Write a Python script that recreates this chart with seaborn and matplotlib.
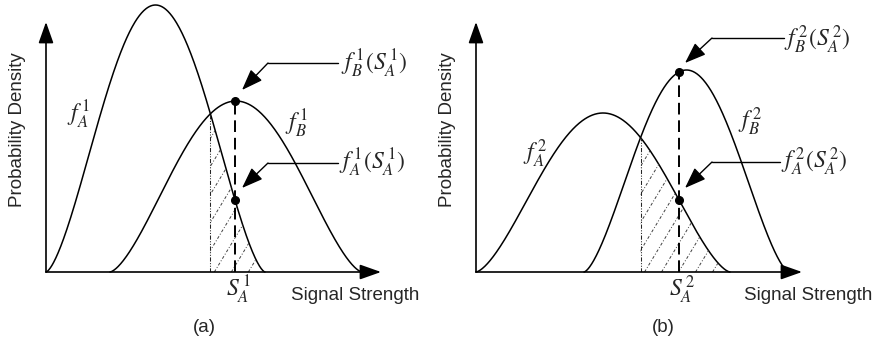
import numpy as np
import pandas as pd
import matplotlib
matplotlib.use("Agg")
import matplotlib.pyplot as plt
import seaborn as sns

# ---------------- data (schematic density curves, pixel-like units) ----------------
panels = ["(a)", "(b)"]
# curve A: start, end, peak height
curveA_start = [0, 0]
curveA_end = [219, 254]
curveA_height = [267, 159]
# curve B: start, end, peak height
curveB_start = [64, 108]
curveB_end = [316, 313]
curveB_height = [171, 202]
shape_exp = [1.5, 1.5]
# threshold S_A
s_value = [189, 203]
# labels
labelA = [r"$f_A^{\,1}$", r"$f_A^{\,2}$"]
labelB = [r"$f_B^{\,1}$", r"$f_B^{\,2}$"]
labelS = [r"$S_A^{\,1}$", r"$S_A^{\,2}$"]
annB = [r"$f_B^{\,1}(S_A^{\,1})$", r"$f_B^{\,2}(S_A^{\,2})$"]
annA = [r"$f_A^{\,1}(S_A^{\,1})$", r"$f_A^{\,2}(S_A^{\,2})$"]
xlabel_text = "Signal Strength"
ylabel_text = "Probability Density"

# ---------------- style ----------------
sns.set_style("white")
plt.rcParams["font.family"] = ["Liberation Sans", "DejaVu Sans"]
plt.rcParams["mathtext.fontset"] = "stix"

W, H = 877, 350
fig = plt.figure(figsize=(W / 100, H / 100), dpi=100)

# layout (pixels)
origins = [(46, 272), (476, 272)]
xlens = [335, 326]
ytip = 250
labA_pos = [(33, 157), (59, 118)]
labB_pos = [(251, 148), (274, 150)]
annB_line = [((222, 209), (292, 209), (196, 182), (295, 208)),
             ((236, 234), (308, 234), (209, 209), (308, 232))]
annA_line = [((222, 109), (292, 109), (196, 84), (293, 109)),
             ((236, 110), (304, 110), (209, 84), (305, 110))]
xlab_pos = [(309, -24), (332, -24)]
panel_pos = [(158, -56), (187, -56)]
ylab_x = [-28, -29]

MATH_FS = 17
TEXT_FS = 13.5


def bump(x, a, b, h, p):
    t = np.clip((x - a) / (b - a), 0, 1)
    return h * np.sin(np.pi * t) ** p


for i in range(2):
    ox, oy = origins[i]
    ax = fig.add_axes([ox / W, (H - oy) / H, xlens[i] / W, oy / H])
    ax.set_xlim(0, xlens[i])
    ax.set_ylim(0, oy)
    ax.axis("off")

    xa = np.linspace(curveA_start[i], curveA_end[i], 400)
    xb = np.linspace(curveB_start[i], curveB_end[i], 400)
    ya = bump(xa, curveA_start[i], curveA_end[i], curveA_height[i], shape_exp[i])
    yb = bump(xb, curveB_start[i], curveB_end[i], curveB_height[i], shape_exp[i])
    df = pd.concat([
        pd.DataFrame({"x": xa, "y": ya, "c": "A"}),
        pd.DataFrame({"x": xb, "y": yb, "c": "B"}),
    ])
    sns.lineplot(data=df, x="x", y="y", units="c", estimator=None, color="black",
                 lw=1.1, ax=ax, clip_on=False, sort=False)

    # intersection of curves
    xs = np.linspace(curveB_start[i], curveA_end[i], 2000)
    fa = bump(xs, curveA_start[i], curveA_end[i], curveA_height[i], shape_exp[i])
    fb = bump(xs, curveB_start[i], curveB_end[i], curveB_height[i], shape_exp[i])
    d = fa - fb
    idx = np.where(np.sign(d[:-1]) != np.sign(d[1:]))[0][-1]
    xi = xs[idx]
    yi = fa[idx]

    # hatched overlap region
    xr = np.linspace(xi, curveA_end[i], 300)
    yr = np.minimum(bump(xr, curveA_start[i], curveA_end[i], curveA_height[i], shape_exp[i]),
                    bump(xr, curveB_start[i], curveB_end[i], curveB_height[i], shape_exp[i]))
    poly = ax.fill_between(xr, 0, yr, facecolor="none", edgecolor="none")
    clip_path = poly.get_paths()[0]
    slope = 1.65
    for x0 in np.arange(xi - 200, curveA_end[i] + 5, 17):
        ln, = ax.plot([x0, x0 + 300 / slope], [0, 300], color="0.25", lw=0.7,
                      ls=(0, (3, 2, 1, 2)))
        ln.set_clip_path(clip_path, ax.transData)
    ax.plot([xi, xi], [0, yi], color="0.15", lw=0.75, ls=(0, (4, 1.5, 1, 1.5, 1, 1.5)))

    # threshold
    s = s_value[i]
    fas = bump(s, curveA_start[i], curveA_end[i], curveA_height[i], shape_exp[i])
    fbs = bump(s, curveB_start[i], curveB_end[i], curveB_height[i], shape_exp[i])
    ax.plot([s, s], [0, fbs], color="black", lw=1.4, ls=(0, (6, 3)))
    ax.plot([s, s], [fas, fbs], "o", color="black", ms=5.5, clip_on=False)

    # axes arrows
    axprops = dict(arrowstyle="-|>,head_length=0.65,head_width=0.23", color="black",
                   lw=1.2, shrinkA=0, shrinkB=0, mutation_scale=20)
    ax.annotate("", xy=(xlens[i], 0), xytext=(0, 0), arrowprops=axprops,
                annotation_clip=False)
    ax.annotate("", xy=(0, ytip), xytext=(0, 0), arrowprops=axprops,
                annotation_clip=False)

    # curve labels
    ax.text(*labA_pos[i], labelA[i], fontsize=MATH_FS, ha="center", va="center")
    ax.text(*labB_pos[i], labelB[i], fontsize=MATH_FS, ha="center", va="center")
    ax.text(s + 3, -18, labelS[i], fontsize=MATH_FS, ha="center", va="center")

    # annotations
    aprops = dict(arrowstyle="-|>,head_length=0.65,head_width=0.24", color="black",
                  lw=1.0, shrinkA=0, shrinkB=0, mutation_scale=20)
    for (p0, p1, tip, tpos), txt in ((annB_line[i], annB[i]), (annA_line[i], annA[i])):
        ax.plot([p0[0], p1[0]], [p0[1], p1[1]], color="black", lw=1.0, clip_on=False)
        ax.annotate("", xy=tip, xytext=p0, arrowprops=aprops, annotation_clip=False)
        ax.text(tpos[0], tpos[1], txt, fontsize=MATH_FS, ha="left", va="center")

    ax.text(*xlab_pos[i], xlabel_text, fontsize=TEXT_FS, ha="center", va="center")
    ax.text(*panel_pos[i], panels[i], fontsize=TEXT_FS, ha="center", va="center")
    ax.text(ylab_x[i], 142, ylabel_text, fontsize=TEXT_FS, ha="center", va="center",
            rotation=90)

fig.savefig("out.png", dpi=100, facecolor="white")
